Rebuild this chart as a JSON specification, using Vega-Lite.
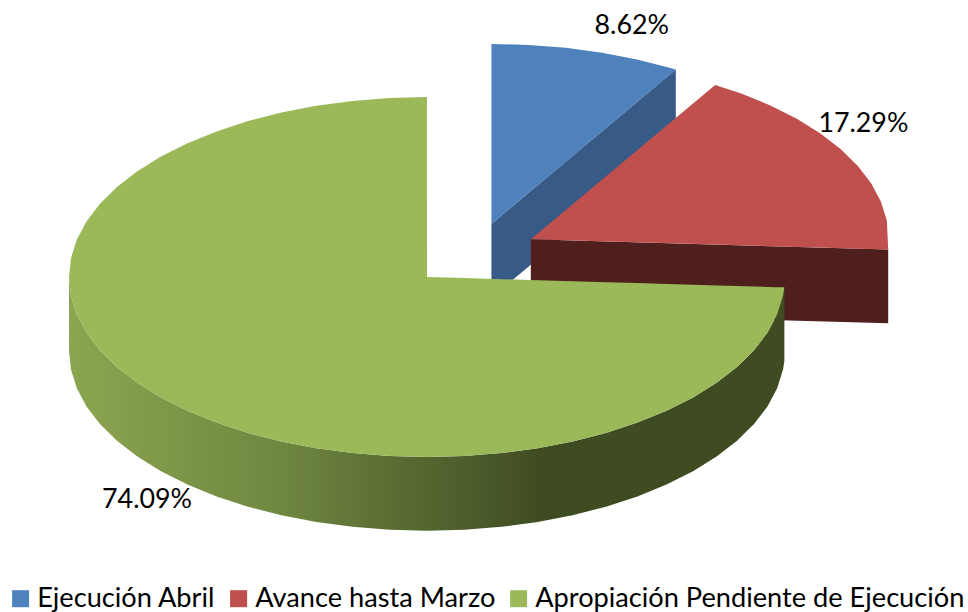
{
"$schema":"https://vega.github.io/schema/vega-lite/v6.json",
"width":968,"height":612,"padding":0,"autosize":"none","background":"white",
"config":{"view":{"stroke":null}},
"datasets":{
"blueSide":[{"x":18,"y":29.5,"y2":-11.5},{"x":69.5,"y":115.22,"y2":74.22}],
"blueTop":[{"serie":"Ejecución Abril","x":18,"y":129.5,"y2":29.5},{"serie":"Ejecución Abril","x":28.45,"y":128.95,"y2":46.89},{"serie":"Ejecución Abril","x":38.79,"y":127.31,"y2":64.09},{"serie":"Ejecución Abril","x":48.9,"y":124.61,"y2":80.92},{"serie":"Ejecución Abril","x":58.67,"y":120.85,"y2":97.17},{"serie":"Ejecución Abril","x":68,"y":116.1,"y2":112.7},{"serie":"Ejecución Abril","x":69.5,"y":115.22,"y2":115.22}],
"redSide":[{"x":29,"y":21,"y2":-20},{"x":128.83,"y":15.24,"y2":-25.76}],
"redTop":[{"serie":"Avance hasta Marzo","x":29,"y":21,"y2":21},{"serie":"Avance hasta Marzo","x":80.5,"y":106.72,"y2":18.03},{"serie":"Avance hasta Marzo","x":87.78,"y":101.9,"y2":17.61},{"serie":"Avance hasta Marzo","x":95.91,"y":95.31,"y2":17.14},{"serie":"Avance hasta Marzo","x":103.31,"y":87.91,"y2":16.71},{"serie":"Avance hasta Marzo","x":109.9,"y":79.78,"y2":16.33},{"serie":"Avance hasta Marzo","x":115.6,"y":71,"y2":16},{"serie":"Avance hasta Marzo","x":120.35,"y":61.67,"y2":15.73},{"serie":"Avance hasta Marzo","x":124.11,"y":51.9,"y2":15.51},{"serie":"Avance hasta Marzo","x":126.81,"y":41.79,"y2":15.36},{"serie":"Avance hasta Marzo","x":128.45,"y":31.45,"y2":15.26},{"serie":"Avance hasta Marzo","x":128.83,"y":15.24,"y2":15.24}],
"greenSide":[{"x":-100,"y":0,"y2":-41},{"x":-99.45,"y":-10.45,"y2":-51.45},{"x":-97.81,"y":-20.79,"y2":-61.79},{"x":-95.11,"y":-30.9,"y2":-71.9},{"x":-91.35,"y":-40.67,"y2":-81.67},{"x":-86.6,"y":-50,"y2":-91},{"x":-80.9,"y":-58.78,"y2":-99.78},{"x":-74.31,"y":-66.91,"y2":-107.91},{"x":-66.91,"y":-74.31,"y2":-115.31},{"x":-58.78,"y":-80.9,"y2":-121.9},{"x":-50,"y":-86.6,"y2":-127.6},{"x":-40.67,"y":-91.35,"y2":-132.35},{"x":-30.9,"y":-95.11,"y2":-136.11},{"x":-20.79,"y":-97.81,"y2":-138.81},{"x":-10.45,"y":-99.45,"y2":-140.45},{"x":0,"y":-100,"y2":-141},{"x":10.45,"y":-99.45,"y2":-140.45},{"x":20.79,"y":-97.81,"y2":-138.81},{"x":30.9,"y":-95.11,"y2":-136.11},{"x":40.67,"y":-91.35,"y2":-132.35},{"x":50,"y":-86.6,"y2":-127.6},{"x":58.78,"y":-80.9,"y2":-121.9},{"x":66.91,"y":-74.31,"y2":-115.31},{"x":74.31,"y":-66.91,"y2":-107.91},{"x":80.9,"y":-58.78,"y2":-99.78},{"x":86.6,"y":-50,"y2":-91},{"x":91.35,"y":-40.67,"y2":-81.67},{"x":95.11,"y":-30.9,"y2":-71.9},{"x":97.81,"y":-20.79,"y2":-61.79},{"x":99.45,"y":-10.45,"y2":-51.45},{"x":99.83,"y":-5.76,"y2":-46.76}],
"greenTop":[{"serie":"Apropiación Pendiente de Ejecución","x":-100,"y":0,"y2":0},{"serie":"Apropiación Pendiente de Ejecución","x":-99.45,"y":10.45,"y2":-10.45},{"serie":"Apropiación Pendiente de Ejecución","x":-97.81,"y":20.79,"y2":-20.79},{"serie":"Apropiación Pendiente de Ejecución","x":-95.11,"y":30.9,"y2":-30.9},{"serie":"Apropiación Pendiente de Ejecución","x":-91.35,"y":40.67,"y2":-40.67},{"serie":"Apropiación Pendiente de Ejecución","x":-86.6,"y":50,"y2":-50},{"serie":"Apropiación Pendiente de Ejecución","x":-80.9,"y":58.78,"y2":-58.78},{"serie":"Apropiación Pendiente de Ejecución","x":-74.31,"y":66.91,"y2":-66.91},{"serie":"Apropiación Pendiente de Ejecución","x":-66.91,"y":74.31,"y2":-74.31},{"serie":"Apropiación Pendiente de Ejecución","x":-58.78,"y":80.9,"y2":-80.9},{"serie":"Apropiación Pendiente de Ejecución","x":-50,"y":86.6,"y2":-86.6},{"serie":"Apropiación Pendiente de Ejecución","x":-40.67,"y":91.35,"y2":-91.35},{"serie":"Apropiación Pendiente de Ejecución","x":-30.9,"y":95.11,"y2":-95.11},{"serie":"Apropiación Pendiente de Ejecución","x":-20.79,"y":97.81,"y2":-97.81},{"serie":"Apropiación Pendiente de Ejecución","x":-10.45,"y":99.45,"y2":-99.45},{"serie":"Apropiación Pendiente de Ejecución","x":-0.01,"y":100,"y2":-100},{"serie":"Apropiación Pendiente de Ejecución","x":0,"y":0,"y2":-100},{"serie":"Apropiación Pendiente de Ejecución","x":10.45,"y":-0.6,"y2":-99.45},{"serie":"Apropiación Pendiente de Ejecución","x":20.79,"y":-1.2,"y2":-97.81},{"serie":"Apropiación Pendiente de Ejecución","x":30.9,"y":-1.78,"y2":-95.11},{"serie":"Apropiación Pendiente de Ejecución","x":40.67,"y":-2.35,"y2":-91.35},{"serie":"Apropiación Pendiente de Ejecución","x":50,"y":-2.88,"y2":-86.6},{"serie":"Apropiación Pendiente de Ejecución","x":58.78,"y":-3.39,"y2":-80.9},{"serie":"Apropiación Pendiente de Ejecución","x":66.91,"y":-3.86,"y2":-74.31},{"serie":"Apropiación Pendiente de Ejecución","x":74.31,"y":-4.29,"y2":-66.91},{"serie":"Apropiación Pendiente de Ejecución","x":80.9,"y":-4.67,"y2":-58.78},{"serie":"Apropiación Pendiente de Ejecución","x":86.6,"y":-5,"y2":-50},{"serie":"Apropiación Pendiente de Ejecución","x":91.35,"y":-5.27,"y2":-40.67},{"serie":"Apropiación Pendiente de Ejecución","x":95.11,"y":-5.49,"y2":-30.9},{"serie":"Apropiación Pendiente de Ejecución","x":97.81,"y":-5.64,"y2":-20.79},{"serie":"Apropiación Pendiente de Ejecución","x":99.45,"y":-5.74,"y2":-10.45},{"serie":"Apropiación Pendiente de Ejecución","x":99.83,"y":-5.76,"y2":-5.76}],
"labels":[{"label":"8.62%","x":57.2,"y":139.7},{"label":"17.29%","x":121.9,"y":85},{"label":"74.09%","x":-78.2,"y":-124}]
},
"encoding":{
"x":{"field":"x","type":"quantitative","axis":null,"scale":{"domain":[-119.27,151.12],"nice":false,"zero":false}},
"y":{"field":"y","type":"quantitative","axis":null,"scale":{"domain":[-186.11,153.89],"nice":false,"zero":false}}
},
"layer":[
{"data":{"name":"blueSide"},"mark":{"type":"area","orient":"vertical","color":"#385a86"},"encoding":{"y2":{"field":"y2"}}},
{"data":{"name":"blueTop"},"mark":{"type":"area","orient":"vertical"},"encoding":{"y2":{"field":"y2"},"color":{"field":"serie","type":"nominal","scale":{"domain":["Ejecución Abril","Avance hasta Marzo","Apropiación Pendiente de Ejecución"],"range":["#4f81bd","#c0504d","#9bb959"]},"legend":{"title":null,"orient":"none","legendX":7,"legendY":585,"direction":"horizontal","columns":3,"symbolType":"square","symbolSize":289,"symbolStrokeWidth":0,"labelFont":"Lato","labelFontSize":27.2,"labelLimit":600,"labelColor":"#000000","columnPadding":9,"labelOffset":3}}}},
{"data":{"name":"redSide"},"mark":{"type":"area","orient":"vertical","color":"#4f1f1e"},"encoding":{"y2":{"field":"y2"}}},
{"data":{"name":"redTop"},"mark":{"type":"area","orient":"vertical"},"encoding":{"y2":{"field":"y2"},"color":{"field":"serie","type":"nominal"}}},
{"data":{"name":"greenSide"},"mark":{"type":"area","orient":"vertical","fill":{"gradient":"linear","x1":0,"y1":0,"x2":1,"y2":0,"stops":[{"offset":0,"color":"#8ba650"},{"offset":0.3,"color":"#6f8640"},{"offset":0.66,"color":"#3f4c22"},{"offset":1,"color":"#3f4c22"}]}},"encoding":{"y2":{"field":"y2"}}},
{"data":{"name":"greenTop"},"mark":{"type":"area","orient":"vertical"},"encoding":{"y2":{"field":"y2"},"color":{"field":"serie","type":"nominal"}}},
{"data":{"name":"labels"},"mark":{"type":"text","font":"Lato","fontSize":26.8,"color":"#000000","align":"center","baseline":"middle"},"encoding":{"text":{"field":"label"}}}
]
}
